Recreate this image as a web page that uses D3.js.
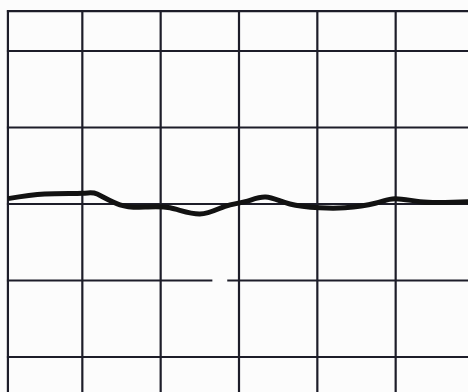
<!DOCTYPE html>
<html>
<head>
<meta charset="utf-8">
<script src="https://cdn.jsdelivr.net/npm/d3@7"></script>
<style>
  html, body { margin: 0; padding: 0; background: #fcfcfc; }
  svg { display: block; }
</style>
</head>
<body>
<svg id="chart" width="468" height="392"></svg>
<script>
// Grid lines, in chart units
const verticalLines = [0.05, 1, 2, 3, 4, 5];
const horizontalLines = [2.52, 2, 1, 0, -1, -2];
// Break in a grid line: [y, from x, to x]
const lineBreaks = [[-1, 2.66, 2.85]];

// Trace values
const traceX = [0.05, 0.52, 1.00, 1.19, 1.48, 1.80, 2.12, 2.50, 2.82, 3.08, 3.34, 3.65,
                4.03, 4.35, 4.74, 4.99, 5.31, 5.63, 5.99];
const traceY = [0.07, 0.13, 0.14, 0.13, -0.01, -0.04, -0.05, -0.13, -0.03, 0.03, 0.09, 0.00,
                -0.05, -0.05, 0.01, 0.07, 0.03, 0.02, 0.03];

const W = 468, H = 392;
const svg = d3.select("#chart");

const x = d3.scaleLinear().domain([0, 6]).range([4, 474]);
const y = d3.scaleLinear().domain([-2, 2]).range([357, 51]);

const gridColor = "#1d1d29";
const gridTop = y(2.52), gridLeft = x(0.05);

const grid = svg.append("g").attr("stroke", gridColor).attr("stroke-width", 2.2);

grid.selectAll("line.v").data(verticalLines).join("line")
  .attr("class", "v")
  .attr("x1", d => x(d)).attr("x2", d => x(d))
  .attr("y1", gridTop - 1).attr("y2", H);

// Horizontal lines, split where a break occurs
const hSegments = [];
horizontalLines.forEach(v => {
  const br = lineBreaks.filter(b => b[0] === v).sort((a, b) => a[1] - b[1]);
  let start = 0.05;
  br.forEach(b => { hSegments.push([v, start, b[1]]); start = b[2]; });
  hSegments.push([v, start, 6]);
});

grid.selectAll("line.h").data(hSegments).join("line")
  .attr("class", "h")
  .attr("x1", d => d[1] === 0.05 ? gridLeft - 1 : x(d[1]))
  .attr("x2", d => x(d[2]))
  .attr("y1", d => y(d[0])).attr("y2", d => y(d[0]));

// The recorded trace
const pts = traceX.map((v, i) => [v, traceY[i]]);
const line = d3.line()
  .x(d => x(d[0]))
  .y(d => y(d[1]))
  .curve(d3.curveNatural);

svg.append("path")
  .datum(pts)
  .attr("d", line)
  .attr("fill", "none")
  .attr("stroke", "#121212")
  .attr("stroke-width", 5)
  .attr("stroke-linecap", "butt")
  .attr("stroke-linejoin", "round");
</script>
</body>
</html>
